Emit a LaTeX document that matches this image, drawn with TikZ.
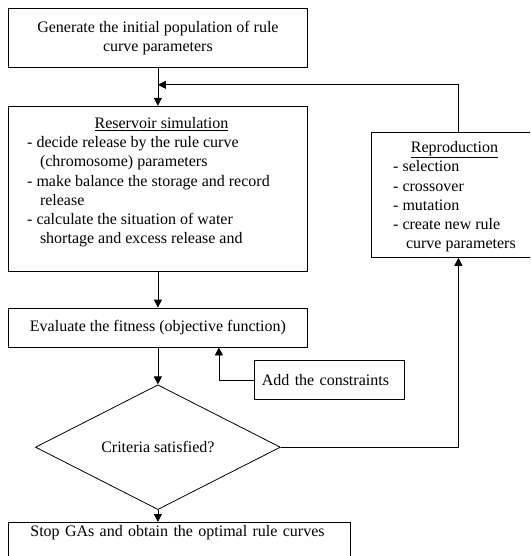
\documentclass[tikz,border=0pt]{standalone}
\usepackage{fontspec}
\setmainfont{Liberation Serif}
\usepackage{tikz}
\usetikzlibrary{
  arrows.meta,
  shapes.geometric,
  positioning,
  calc
}
\definecolor{gaLine}{HTML}{000000}
\definecolor{gaFill}{HTML}{FFFFFF}
\tikzset{
  ganode/.style={
    draw=gaLine, fill=gaFill, line width=0.8pt,
    font=\fontsize{16}{19.5}\selectfont, align=center, inner sep=0pt
  },
  gabox/.style={ganode, rectangle, minimum width=299pt},
  decision/.style={ganode, diamond, minimum width=245pt, minimum height=99pt},
  listtext/.style={font=\fontsize{16}{19.2}\selectfont, inner sep=0pt, anchor=north west},
  flow/.style={-{Triangle[length=8pt, width=8pt]}, line width=0.8pt, gaLine}
}
\begin{document}
\begin{tikzpicture}[x=1pt, y=-1pt, node distance=37pt]
  \useasboundingbox (0,0) rectangle (530,556);
  \clip (0,0) rectangle (530,556);
  % main column
  \node[gabox, minimum height=59pt, anchor=north west] (init) at (8,8) {Generate the initial population of rule\\curve parameters};
  \node[gabox, minimum height=165pt, below=38pt of init] (resv) {};
  \node[listtext] (resvtext) at ([xshift=19pt, yshift=-9pt]resv.north west) {\begin{tabular}{@{}l@{}}
      \multicolumn{1}{@{}c@{}}{\hspace*{26pt}\underline{Reservoir simulation}}\\
      - decide release by the rule curve\\
      \hspace*{0.8em}(chromosome) parameters\\
      - make balance the storage and record\\
      \hspace*{0.8em}release\\
      - calculate the situation of water\\
      \hspace*{0.8em}shortage and excess release and
    \end{tabular}};
  \node[gabox, minimum height=39pt, below=36pt of resv] (eval) {Evaluate the fitness (objective function)};
  \node[decision, below=37pt of eval] (crit) {Criteria satisfied?};
  \node[gabox, anchor=north west, text width=298pt, align=left, inner xsep=22pt, inner ysep=3pt, text depth=30pt] (stop) at (8,522) {Stop GAs and obtain the optimal rule curves};
  % side boxes
  \node[gabox, minimum width=150pt, minimum height=39pt, text width=135pt, align=left, inner xsep=7.5pt, anchor=north west] (cons) at (254,360) {Add the constraints};
  \node[gabox, minimum width=174pt, minimum height=125pt, anchor=north west] (repro) at (371,132) {};
  \node[listtext] (reprotext) at ([xshift=22pt, yshift=-7pt]repro.north west) {\begin{tabular}{@{}l@{}}
      \multicolumn{1}{@{}c@{}}{\underline{Reproduction}}\\
      - selection\\
      - crossover\\
      - mutation\\
      - create new rule\\
      \hspace*{0.8em}curve parameters
    \end{tabular}};
  % connectors
  \coordinate (join) at ([yshift=-17pt]init.south);
  \draw[flow] (init) -- (resv);
  \draw[flow] (repro.north) |- (join);
  \draw[flow] (resv) -- (eval);
  \draw[flow] (eval) -- (crit);
  \draw[flow] (cons.west) -| ([xshift=61pt]eval.south);
  \draw[flow] (crit.east) -| (repro.south);
  \draw[flow] (crit.south) -- (crit.south |- stop.north);
\end{tikzpicture}
\end{document}
